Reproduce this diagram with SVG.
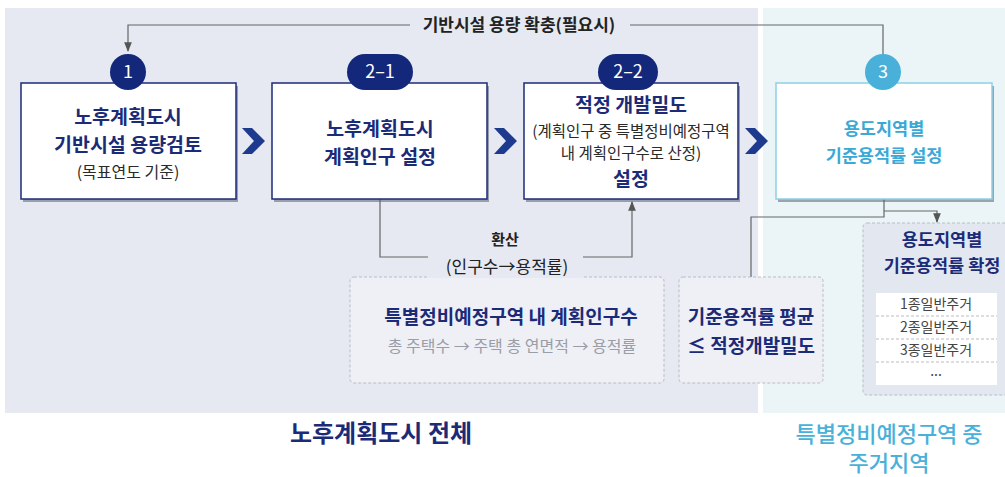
<svg xmlns="http://www.w3.org/2000/svg" width="1005" height="477" viewBox="0 0 1005 477">
<style>
text{font-family:"Noto Sans CJK KR","Noto Sans",sans-serif;text-anchor:middle}
.t{font-size:19.5px;font-weight:700;fill:#1b2b78}
.s{font-size:15.5px;font-weight:400;fill:#2a2a2a}
.c{font-size:17.5px;font-weight:600;fill:#3aa9d6}
.d{font-size:19px;font-weight:700;fill:#1b2b78}
.box{fill:#fff;stroke:#1b2b78;stroke-width:1.5}
.box3{fill:#fff;stroke:#8fd0e6;stroke-width:1.5}
.sh{fill:#5a6070;opacity:.55}
.dash{stroke:#b8bcc8;stroke-width:1;stroke-dasharray:3 2}
.ln{fill:none;stroke:#666;stroke-width:1.2}
.badge{fill:#13287a}
.bt{font-size:18px;fill:#fff;font-weight:400}
.chev{fill:#1d3a8f}
.row{fill:#fff}
.rt{font-size:14px;fill:#444}
</style>
<defs>
<marker id="ah" viewBox="0 0 10 10" refX="9" refY="5" markerWidth="8" markerHeight="8" orient="auto">
<path d="M0,1 L10,5 L0,9 z" fill="#555"/>
</marker>
</defs>
<rect width="1005" height="477" fill="#ffffff"/>
<rect x="5" y="8" width="753" height="405" fill="#e6e9f1"/>
<rect x="763" y="8" width="242" height="405" fill="#ebf4f7"/>

<g id="connectors">
<polyline class="ln" points="410,25 128,25 128,51" marker-end="url(#ah)"/>
<polyline class="ln" points="630,25 883,25 883,55"/>
<polyline class="ln" points="380,199 380,257 428,257"/>
<polyline class="ln" points="583,257 632,257 632,202" marker-end="url(#ah)"/>
<polyline class="ln" points="884,199 884,217 751,217 751,277"/>
<polyline class="ln" points="884,211 937,211 937,222" marker-end="url(#ah)"/>
</g>

<text x="519" y="31" style="font-size:17px;font-weight:700;fill:#222">기반시설 용량 확충(필요시)</text>

<g id="chevrons">
<polygon class="chev" points="242,128 252,128 265,141 252,154 242,154 254,141"/>
<polygon class="chev" points="494,128 504,128 517,141 504,154 494,154 506,141"/>
<polygon class="chev" points="745,128 755,128 768,141 755,154 745,154 757,141"/>
</g>

<g id="node1">
<rect class="sh" x="23" y="86" width="215" height="116"/>
<rect class="box" x="21" y="83" width="215" height="116"/>
<text class="t" x="128" y="124">노후계획도시</text>
<text class="t" x="128" y="152">기반시설 용량검토</text>
<text class="s" x="128" y="178" style="font-size:16px">(목표연도 기준)</text>
<circle class="badge" cx="128" cy="72" r="18"/>
<text class="bt" x="128" y="78">1</text>
</g>

<g id="node2-1">
<rect class="sh" x="274" y="86" width="215" height="116"/>
<rect class="box" x="272" y="83" width="215" height="116"/>
<text class="t" x="380" y="136">노후계획도시</text>
<text class="t" x="380" y="164">계획인구 설정</text>
<rect class="badge" x="347" y="54" width="66" height="36" rx="18"/>
<text class="bt" x="380" y="78">2–1</text>
</g>

<g id="node2-2">
<rect class="sh" x="526" y="86" width="214" height="116"/>
<rect class="box" x="524" y="83" width="214" height="116"/>
<text class="t" x="631" y="112">적정 개발밀도</text>
<text class="s" x="631" y="137">(계획인구 중 특별정비예정구역</text>
<text class="s" x="631" y="159">내 계획인구수로 산정)</text>
<text class="t" x="631" y="186">설정</text>
<rect class="badge" x="598" y="54" width="60" height="36" rx="18"/>
<text class="bt" x="628" y="78">2–2</text>
</g>

<g id="node3">
<rect class="sh" x="778" y="86" width="216" height="116" opacity=".35"/>
<rect class="box3" x="776" y="83" width="216" height="116"/>
<text class="c" x="884" y="135">용도지역별</text>
<text class="c" x="884" y="162">기준용적률 설정</text>
<circle cx="883" cy="72" r="18" fill="#49b1d9"/>
<text class="bt" x="883" y="78">3</text>
</g>

<g id="node-pop">
<rect class="dash" x="350" y="277" width="314" height="106" rx="4" fill="#eef0f6"/>
<text class="d" x="511" y="324">특별정비예정구역 내 계획인구수</text>
<text class="s" x="512" y="352" style="font-size:16px;fill:#9a9da6">총 주택수 → 주택 총 연면적 → 용적률</text>
</g>

<g id="label-convert">
<rect x="428" y="230" width="155" height="48" fill="#e6e9f1"/>
<text x="505" y="245" style="font-size:15px;font-weight:700;fill:#222">환산</text>
<text x="507" y="273" style="font-size:17px;font-weight:400;fill:#222">(인구수→용적률)</text>
</g>

<g id="node-avg">
<rect class="dash" x="679" y="277" width="144" height="106" rx="4" fill="#eef0f6"/>
<text class="d" x="751" y="324">기준용적률 평균</text>
<text class="d" x="751" y="353">≤ 적정개발밀도</text>
</g>

<g id="node-final">
<rect class="dash" x="863" y="223" width="150" height="172" rx="4" fill="#e3e8f0"/>
<text class="d" x="942" y="246" style="font-size:17.5px">용도지역별</text>
<text class="d" x="942" y="272" style="font-size:17.5px">기준용적률 확정</text>
<rect class="row" x="876" y="293" width="121" height="92"/>
<line class="dash" x1="876" y1="316" x2="997" y2="316"/>
<line class="dash" x1="876" y1="339" x2="997" y2="339"/>
<line class="dash" x1="876" y1="362" x2="997" y2="362"/>
<text class="rt" x="936" y="309">1종일반주거</text>
<text class="rt" x="936" y="332">2종일반주거</text>
<text class="rt" x="936" y="355">3종일반주거</text>
<text class="rt" x="936" y="376">...</text>
</g>

<text x="381" y="442" style="font-size:24px;font-weight:700;fill:#1b2b78">노후계획도시 전체</text>
<text x="889" y="442" style="font-size:22px;font-weight:500;fill:#49b1d9">특별정비예정구역 중</text>
<text x="889" y="471" style="font-size:22px;font-weight:500;fill:#49b1d9">주거지역</text>
</svg>
